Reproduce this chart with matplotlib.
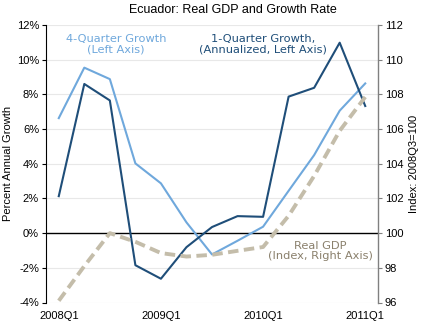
import matplotlib
matplotlib.use("Agg")
import matplotlib.pyplot as plt
import numpy as np

quarters = ["2008Q1", "2008Q2", "2008Q3", "2008Q4",
            "2009Q1", "2009Q2", "2009Q3", "2009Q4",
            "2010Q1", "2010Q2", "2010Q3", "2010Q4",
            "2011Q1"]
growth_1q = [2.13, 8.6, 7.65, -1.85, -2.63, -0.81, 0.35, 0.98, 0.94, 7.87, 8.38, 10.98, 7.33]
growth_4q = [6.63, 9.54, 8.88, 4.02, 2.87, 0.62, -1.23, -0.44, 0.37, 2.44, 4.5, 7.06, 8.63]
gdp_index = [96.1, 98.1, 100.0, 99.5, 98.85, 98.65, 98.75, 98.98, 99.2, 101.0, 103.3, 105.9, 107.85]

left_ticks = [-4, -2, 0, 2, 4, 6, 8, 10, 12]
right_ticks = [96, 98, 100, 102, 104, 106, 108, 110, 112]
x_labels = ["2008Q1", "2009Q1", "2010Q1", "2011Q1"]

c_dark = "#1f4e79"
c_light = "#6fa8dc"
c_gdp = "#c4bdaa"
c_gdp_text = "#8a806c"

tick_font = "Liberation Sans"
note_font = "DejaVu Sans"

fig = plt.figure(figsize=(4.25, 3.24), dpi=100)
ax = fig.add_axes([46/425, 1 - 302.5/324, (378 - 46)/425, (302.5 - 25)/324])
x = np.arange(len(quarters))

ax.set_xlim(-0.5, len(quarters) - 0.5)
ax.set_ylim(-4, 12)
ax.set_yticks(left_ticks)
ax.set_yticklabels([f"{t}%" for t in left_ticks], fontfamily=tick_font, fontsize=8)
for t in left_ticks:
    if t != 0:
        ax.axhline(t, color="#e8e8e8", lw=0.8, zorder=0)
ax.axhline(0, color="black", lw=1.0, zorder=1)

ax.plot(x, growth_4q, color=c_light, lw=1.5, zorder=3)
ax.plot(x, growth_1q, color=c_dark, lw=1.5, zorder=4)

ax.set_xticks([quarters.index(q) for q in x_labels])
ax.set_xticklabels(x_labels, fontfamily=tick_font, fontsize=8)
ax.tick_params(axis="x", length=0, pad=6)
ax.tick_params(axis="y", direction="out", length=3, width=0.8, color="black", pad=2)
for s in ["top", "bottom", "right"]:
    ax.spines[s].set_visible(False)
ax.spines["left"].set_color("black")
ax.spines["left"].set_linewidth(0.8)
ax.set_ylabel("Percent Annual Growth", fontfamily=tick_font, fontsize=8, labelpad=3)

ax2 = ax.twinx()
ax2.set_ylim(96, 112)
ax2.set_yticks(right_ticks)
ax2.set_yticklabels([str(t) for t in right_ticks], fontfamily=tick_font, fontsize=8)
ax2.plot(x, gdp_index, color=c_gdp, lw=2.8, dashes=(2.7, 1.4), zorder=5)
for s in ["top", "bottom", "left"]:
    ax2.spines[s].set_visible(False)
ax2.spines["right"].set_color("#808080")
ax2.spines["right"].set_linewidth(1.0)
ax2.tick_params(axis="y", direction="out", length=3, width=0.8, color="#808080", pad=2)
ax2.set_ylabel("Index: 2008Q3=100", fontfamily=tick_font, fontsize=8, labelpad=4)

fig.text(233/425, 1 - 10/324, "Ecuador: Real GDP and Growth Rate",
         ha="center", va="center", fontfamily=tick_font, fontsize=9)

def note(px, py, s, color):
    fig.text(px/425, 1 - py/324, s, ha="center", va="center",
             fontfamily=note_font, fontsize=8.2, color=color, linespacing=1.1)

note(116, 44, "4-Quarter Growth\n(Left Axis)", c_light)
note(263, 44, "1-Quarter Growth,\n(Annualized, Left Axis)", c_dark)
note(320, 251, "Real GDP\n(Index, Right Axis)", c_gdp_text)

fig.savefig("out.png", dpi=100)
